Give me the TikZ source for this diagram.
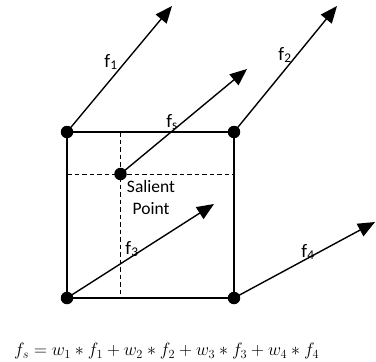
\documentclass[tikz,border=0pt]{standalone}
\usepackage{fontspec}
\newfontfamily\carl{Carlito}
\usepackage{graphicx}
\usepackage{tikz}
\usetikzlibrary{arrows.meta,positioning}

\begin{document}
\begin{tikzpicture}[x=1pt,y=-1pt,
  corner/.style={circle,fill=black,inner sep=0pt,minimum size=12.5pt},
  vec/.style={-{Triangle[length=17pt,width=14pt]},line width=1.4pt},
  side/.style={line width=1.3pt},
  guide/.style={line width=1pt,dash pattern=on 4.5pt off 3pt},
  lab/.style={font=\carl\fontsize{19}{22}\selectfont,inner sep=0pt},
  txt/.style={font=\carl\fontsize{17.5}{22}\selectfont,align=center,inner sep=0pt}]
  \useasboundingbox (0,0) rectangle (376,362);
  % corners and the salient point
  \coordinate (tl) at (67,132);
  \coordinate (tr) at (234,132);
  \coordinate (bl) at (67,298);
  \coordinate (br) at (234,298);
  \coordinate (sp) at (120.5,174);
  % arrow tips
  \coordinate (t1) at (172,6);
  \coordinate (t2) at (337,6);
  \coordinate (ts) at (247,69);
  \coordinate (t3) at (214,204);
  \coordinate (t4) at (375,222);
  % guides through the salient point
  \draw[guide] (sp |- tl) -- (sp |- bl);
  \draw[guide] (tl |- sp) -- (tr |- sp);
  \draw[side] (tl) -- (tr) -- (br) -- (bl) -- cycle;
  \draw[vec] (tl) -- (t1);
  \draw[vec] (tr) -- (t2);
  \draw[vec] (sp) -- (ts);
  \draw[vec] (bl) -- (t3);
  \draw[vec] (br) -- (t4);
  \node[corner] (c1) at (tl) {};
  \node[corner] (c2) at (tr) {};
  \node[corner] (c3) at (bl) {};
  \node[corner] (c4) at (br) {};
  \node[corner] (cs) at (sp) {};
  % labels
  \node[lab] (l1) at (111,62) {f\textsubscript{1}};
  \node[lab] (l2) at (285,55) {f\textsubscript{2}};
  \node[lab] (ls) at (172,122) {f\textsubscript{s}};
  \node[lab] (l3) at (132,249) {f\textsubscript{3}};
  \node[lab] (l4) at (308,252) {f\textsubscript{4}};
  \node[txt] (sal) at (151,197) {Salient\\Point};
  \node[anchor=west,inner sep=0pt,font=\fontsize{17.28}{20}\selectfont] (eq) at (14,351)
    {\scalebox{1.035}{$f_s = w_1 * f_1 + w_2 * f_2 + w_3 * f_3 + w_4 * f_4$}};
\end{tikzpicture}
\end{document}
